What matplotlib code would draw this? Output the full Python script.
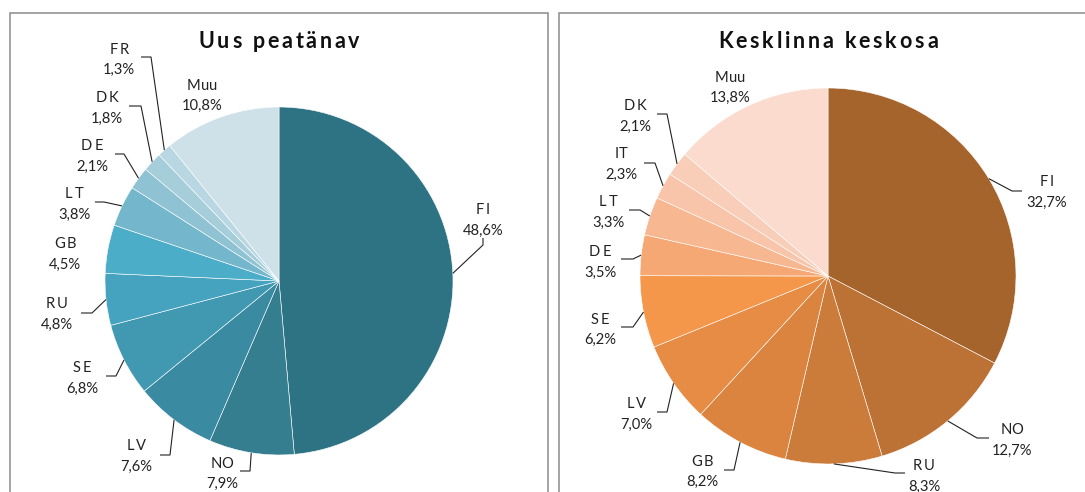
import numpy as np
import matplotlib.pyplot as plt
from matplotlib.patches import Rectangle
from matplotlib.font_manager import FontProperties

W, H = 1085, 492

# data
left_title = "Uus peatänav"
left_labels = ["FI", "NO", "LV", "SE", "RU", "GB", "LT", "DE", "DK", "FR", "Muu"]
left_values = [48.6, 7.9, 7.6, 6.8, 4.8, 4.5, 3.8, 2.1, 1.8, 1.3, 10.8]
left_colors = ["#2E7384", "#347E90", "#3A8AA2", "#4198B1", "#46A3BF", "#4BADC8",
               "#74B7CC", "#8FC3D3", "#A5CDDA", "#B8D7E2", "#CEE1E8"]

right_title = "Kesklinna keskosa"
right_labels = ["FI", "NO", "RU", "GB", "LV", "SE", "DE", "LT", "IT", "DK", "Muu"]
right_values = [32.7, 12.7, 8.3, 8.2, 7.0, 6.2, 3.5, 3.3, 2.3, 2.1, 13.8]
right_colors = ["#A6642D", "#BC7235", "#CC7C3A", "#DA843F", "#E68C45", "#F4974A",
                "#F5A873", "#F7B790", "#F8C5AB", "#F9CEB9", "#FADBCE"]

# label layout (picture pixels, y from top)
left_text_pos = [(483, 219), (222, 472), (136, 455), (82, 377), (57, 313), (65, 253),
                 (74, 203), (92, 155), (107, 107), (119, 58), (202, 94)]
left_leaders = [((483, 245), (483, 238)), ((250, 471), (240, 471)), ((170, 455), (160, 455)),
                ((116, 376), (106, 376)), ((92, 313), (81, 313)), None,
                ((104, 202), (95, 202)), ((124, 154), (115, 154)), ((141, 106), (129, 106)),
                ((151, 57), (141, 57)), None]

right_text_pos = [(1047, 191), (1012, 439), (924, 475), (702, 470), (636, 413), (600, 328),
                  (600, 261), (608, 211), (621, 163), (635, 115), (730, 86)]
right_leaders = [((1012, 191), (1022, 191)), ((977, 438), (989, 438)), ((895, 473), (905, 473)),
                 ((734, 470), (724, 470)), ((667, 412), (657, 412)), ((633, 327), (621, 327)),
                 ((633, 259), (621, 259)), ((640, 210), (629, 210)), ((655, 163), (644, 163)),
                 ((667, 114), (657, 114)), None]

# names that the original draws with wide letter spacing
spaced_names = {"FI", "SE", "DK", "LT", "RU", "GB", "LV", "DE", "FR"}

plt.rcParams['font.family'] = ['Lato', 'DejaVu Sans']

fig = plt.figure(figsize=(W / 100, H / 100), dpi=100)
ax = fig.add_axes([0, 0, 1, 1])
renderer = fig.canvas.get_renderer()


def up(p):
    return p[0], H - p[1]


def text_w(s, prop):
    w, _, _ = renderer.get_text_width_height_descent(s, prop, ismath=False)
    return w


def tracked(x, y, s, track, size, weight='normal', color='#222222'):
    # draw text letter by letter with extra spacing (axes units = pixels)
    prop = FontProperties(family=['Lato', 'DejaVu Sans'], size=size, weight=weight)
    ref = text_w('.', prop)
    offs = [text_w(s[:i] + '.', prop) - ref if i else 0.0 for i in range(len(s))]
    total = text_w(s, prop) + track * (len(s) - 1)
    x0 = x - total / 2
    for i, ch in enumerate(s):
        if ch == ' ':
            continue
        ax.text(x0 + offs[i] + track * i, y, ch, ha='left', va='center_baseline',
                fontproperties=prop, color=color)


def draw_pie(values, labels, colors, center, radius, title, text_pos, leaders):
    c = up(center)
    wedges, _ = ax.pie(values, colors=colors, startangle=90, counterclock=False,
                       center=c, radius=radius, frame=True,
                       wedgeprops=dict(edgecolor='white', linewidth=0.4))
    for w, lab, val, tp, ld in zip(wedges, labels, values, text_pos, leaders):
        tx, ty = up(tp)
        pct = f"{val:.1f}%".replace('.', ',')
        track = 2.0 if lab in spaced_names else 0.0
        tracked(tx, ty + 10, lab, track, 10.6)
        ax.text(tx, ty - 10, pct, ha='center', va='center_baseline', fontsize=10.6,
                color='#222222')
        if ld is not None:
            mid = np.deg2rad((w.theta1 + w.theta2) / 2)
            ex, ey = c[0] + radius * np.cos(mid), c[1] + radius * np.sin(mid)
            (bx, by), (fx, fy) = up(ld[0]), up(ld[1])
            ax.plot([ex, bx, fx], [ey, by, fy], color='#222222', lw=0.8,
                    solid_capstyle='butt')
    tx, ty = up((center[0], 40))
    tracked(tx, ty, title, 2.8, 15.5, weight='bold', color='#111111')


draw_pie(left_values, left_labels, left_colors, (279, 281), 174, left_title,
         left_text_pos, left_leaders)
draw_pie(right_values, right_labels, right_colors, (828, 276), 188, right_title,
         right_text_pos, right_leaders)

# panel frames
for x0, x1 in [(9.5, 547.5), (558.5, 1100)]:
    ax.add_patch(Rectangle((x0, -20), x1 - x0, H - 12.5 + 20, fill=False,
                           edgecolor='#8c8c8c', lw=1.1))

ax.set_xlim(0, W)
ax.set_ylim(0, H)
ax.set_aspect('auto')
ax.axis('off')

fig.savefig("out.png", dpi=100)
